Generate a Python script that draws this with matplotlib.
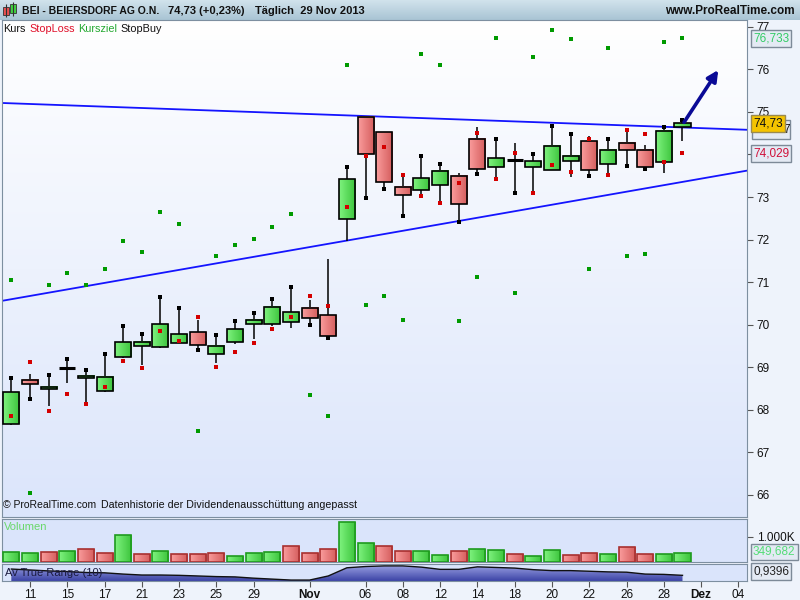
import numpy as np
import matplotlib
matplotlib.use("Agg")
import matplotlib.pyplot as plt
from matplotlib.patches import Rectangle, FancyArrowPatch
from matplotlib.colors import LinearSegmentedColormap
import matplotlib.transforms as mtransforms

plt.rcParams['font.family'] = ['Liberation Sans', 'DejaVu Sans']

# === DATOS (BEI, diario, 10 Oct - 29 Nov 2013) ===
opens = [67.66, 68.70, 68.48, 68.97, 68.74, 68.44, 69.24, 69.49, 69.47, 69.57,
         69.82, 69.31, 69.59, 70.01, 70.01, 70.06, 70.39, 70.22, 72.48, 74.88,
         74.52, 73.23, 73.16, 73.28, 73.49, 74.36, 73.70, 73.86, 73.70, 73.63,
         73.84, 74.31, 73.77, 74.27, 74.10, 73.82, 74.64]
highs = [68.74, 68.84, 68.81, 69.19, 68.93, 69.31, 69.97, 69.78, 70.65, 70.39,
         70.11, 69.75, 70.08, 70.27, 70.60, 70.88, 70.58, 71.55, 73.70, 74.91,
         74.52, 73.51, 73.96, 73.77, 73.56, 74.64, 74.36, 74.27, 74.01, 74.67,
         74.48, 74.43, 74.36, 74.63, 74.22, 74.64, 74.81]
lows = [67.64, 68.25, 68.08, 68.64, 68.19, 68.41, 69.22, 69.06, 69.44, 69.56,
        69.40, 69.11, 69.54, 69.66, 69.97, 69.92, 69.99, 69.68, 71.97, 72.97,
        73.18, 72.55, 73.02, 72.86, 72.41, 73.54, 73.42, 73.09, 73.09, 73.63,
        73.47, 73.49, 73.51, 73.72, 73.65, 73.56, 74.31]
closes = [68.41, 68.60, 68.53, 68.97, 68.79, 68.77, 69.59, 69.59, 70.01, 69.78,
          69.52, 69.50, 69.89, 70.11, 70.41, 70.29, 70.15, 69.73, 73.42, 74.01,
          73.35, 73.04, 73.44, 73.61, 72.83, 73.65, 73.91, 73.86, 73.84, 74.20,
          73.96, 73.63, 74.10, 74.10, 73.70, 74.55, 74.73]

stop_loss = [67.85, 69.12, 67.97, 68.37, 68.13, 68.53, 69.14, 68.98, 69.85, 69.61,
             70.18, 69.00, 69.35, 69.57, 69.89, 70.18, 70.67, 70.44, 72.76, 73.96,
             74.17, 73.51, 73.02, 72.86, 73.33, 74.50, 73.42, 74.03, 73.09, 73.75,
             73.58, 74.36, 73.51, 74.57, 74.48, 73.82, 74.03]
kursziel = [71.05, 66.04, 70.93, 71.21, 70.93, 71.31, 71.96, 71.71, 72.65, 72.36,
            67.50, 71.61, 71.87, 72.01, 72.29, 72.60, 68.34, 67.85, 76.10, 70.46,
            70.67, 70.11, 76.36, 76.10, 70.08, 71.12, 76.73, 70.74, 76.29, 76.92,
            76.71, 71.31, 76.50, 71.61, 71.66, 76.64, 76.73]
stop_buy = [68.74, 68.25, 68.81, 69.19, 68.93, 69.31, 69.97, 69.78, 70.65, 70.39,
            69.40, 69.75, 70.08, 70.27, 70.60, 70.88, 69.99, 69.68, 73.70, 72.97,
            73.18, 72.55, 73.96, 73.77, 72.41, 73.54, 74.36, 73.09, 74.01, 74.67,
            74.48, 73.49, 74.36, 73.72, 73.65, 74.64, 74.81]

volumen = [388, 348, 388, 428, 508, 348, 1068, 308, 428, 308,
           308, 348, 228, 348, 388, 628, 348, 508, 1588, 748,
           628, 428, 428, 268, 428, 508, 468, 308, 228, 468,
           268, 348, 308, 588, 308, 308, 349.682]
vol_up = [1, 1, 0, 1, 0, 0, 1, 0, 1, 0, 0, 0, 1, 1, 1, 0, 0, 0, 1, 1,
          0, 0, 1, 1, 0, 1, 1, 0, 1, 1, 0, 0, 1, 0, 0, 1, 1]

atr = [1.14, 1.11, 1.08, 1.06, 1.03, 1.02, 0.98, 0.95, 0.95, 0.94,
       0.92, 0.90, 0.89, 0.85, 0.82, 0.79, 0.79, 0.92, 1.18, 1.22,
       1.24, 1.24, 1.20, 1.13, 1.13, 1.21, 1.19, 1.17, 1.12, 1.09,
       1.09, 1.07, 1.05, 1.04, 0.98, 0.97, 0.94]

tick_pos = [1, 3, 5, 7, 9, 11, 13, 16, 19, 21, 23, 25, 27, 29, 31, 33, 35, 37, 39]
tick_lab = ["11", "15", "17", "21", "23", "25", "29", "Nov", "06", "08",
            "12", "14", "18", "20", "22", "26", "28", "Dez", "04"]

price_ticks = list(range(66, 78))
price_labels = [str(p) if p != 74 else "" for p in price_ticks]  # 74 liegt unter der Box

# Lineas de tendencia y flecha (indice, precio)
trend_upper = ([-0.5, 39.46], [75.21, 74.58])
trend_lower = ([-0.5, 39.46], [70.56, 73.62])
arrow_from = (36.0, 74.70)
arrow_to = (38.0, 76.04)

W, H = 800, 600
fig = plt.figure(figsize=(8, 6), dpi=100, facecolor="#eef3fb")


def fx(x):
    return x / W


def fy(y):
    return 1 - y / H


def add_ax(x0, y0, x1, y1):
    return fig.add_axes([fx(x0), fy(y1), fx(x1) - fx(x0), fy(y0) - fy(y1)])


def vgrad(a, top, bottom, z=0):
    cm = LinearSegmentedColormap.from_list("bg", [bottom, top])
    a.imshow(np.linspace(0, 1, 256).reshape(-1, 1), cmap=cm, origin="lower",
             extent=(0, 1, 0, 1), transform=a.transAxes, aspect="auto", zorder=z)


def body(a, x, lo, hi, w, c_left, c_right, edge, z=3):
    cm = LinearSegmentedColormap.from_list("b", [c_left, c_right])
    a.imshow(np.linspace(0, 1, 32).reshape(1, -1), cmap=cm,
             extent=(x - w / 2, x + w / 2, lo, hi), aspect="auto",
             interpolation="bilinear", zorder=z)
    a.add_patch(Rectangle((x - w / 2, lo), w, hi - lo, fill=False,
                          edgecolor=edge, lw=1.2, zorder=z + 0.5))


GREEN = ("#7ef27e", "#3cc43c")
RED = ("#fa9c9c", "#d45c5c")
BORDER = "#7d8fa0"

# === CABECERA ===
ax_head = add_ax(0, 0, 800, 20)
vgrad(ax_head, "#d2e3ec", "#a8c4d4")
ax_head.set_xlim(0, 800)
ax_head.set_ylim(20, 0)
ax_head.axis("off")
ax_head.vlines([6, 13], [4, 2], [17, 16], color="#333", lw=0.8)
ax_head.add_patch(Rectangle((3, 7), 6, 8, facecolor="#e85050", edgecolor="#333", lw=0.6))
ax_head.add_patch(Rectangle((10, 4), 6, 9, facecolor="#40d040", edgecolor="#333", lw=0.6))
ax_head.text(22, 10.5, "BEI - BEIERSDORF AG O.N.", fontsize=7.5, fontweight="bold",
             color="#111", va="center")
ax_head.text(168, 10.5, "74,73 (+0,23%)", fontsize=8, fontweight="bold",
             color="#111", va="center")
ax_head.text(255, 10.5, "Täglich  29 Nov 2013", fontsize=8, fontweight="bold",
             color="#111", va="center")
ax_head.text(795, 10.5, "www.ProRealTime.com", fontsize=8.5, fontweight="bold",
             color="#111", va="center", ha="right")

# === PANEL PRINCIPAL ===
ax = add_ax(2, 20, 747, 517)
vgrad(ax, "#ffffff", "#dbe5fb")
idx = np.arange(len(closes))
w = 0.86
for i in idx:
    ax.vlines(i, lows[i], highs[i], color="black", lw=1.1, zorder=2.8)
    o, c = opens[i], closes[i]
    if abs(o - c) < 1e-9:
        ax.hlines(o, i - w / 2, i + w / 2, color="black", lw=2.2, zorder=3)
    elif c > o:
        body(ax, i, o, c, w, GREEN[0], GREEN[1], "black")
    else:
        body(ax, i, c, o, w, RED[0], RED[1], "black")

ax.plot(*trend_upper, color="#1414ff", lw=1.3, zorder=2.5)
ax.plot(*trend_lower, color="#1414ff", lw=1.3, zorder=2.5)

ax.plot(idx, stop_buy, "s", color="black", ms=3.2, mew=0, zorder=5)
ax.plot(idx, stop_loss, "s", color="#d40000", ms=3.2, mew=0, zorder=5)
ax.plot(idx, kursziel, "s", color="#009a00", ms=3.2, mew=0, zorder=5)

ax.add_patch(FancyArrowPatch(arrow_from, arrow_to, arrowstyle="-|>",
                             mutation_scale=16, color="#0a0a96", lw=2.6, zorder=6))

ax.set_xlim(-0.5, 39.46)
ax.set_ylim(65.48, 77.16)
ax.set_xticks([])
ax.yaxis.tick_right()
ax.set_yticks(price_ticks)
ax.set_yticklabels(price_labels)
ax.tick_params(axis="y", length=4, pad=3, labelsize=8.5, color="#555", labelcolor="#111")
for s in ax.spines.values():
    s.set_color(BORDER)

leg_y = 0.992
for xp, txt, col in [(3, "Kurs", "#111"), (29, "StopLoss", "#e0102a"),
                     (78, "Kursziel", "#22a830"), (120, "StopBuy", "#111")]:
    ax.text((xp - 2) / 745, leg_y, txt, color=col, fontsize=7.8, transform=ax.transAxes,
            va="top", ha="left")
ax.text(1 / 745, 0.014, "© ProRealTime.com", fontsize=7.5, color="#111",
        transform=ax.transAxes, va="bottom")
ax.text(99 / 745, 0.014, "Datenhistorie der Dividendenausschüttung angepasst",
        fontsize=7.7, color="#111", transform=ax.transAxes, va="bottom")

# Cajas de valores en el eje derecho
trans = mtransforms.blended_transform_factory(ax.transAxes, ax.transData)
box_x = (753 - 2) / 745


def value_box(a, tr, y, txt, tcol, fcol, ecol="#7d8a98"):
    a.text(box_x, y, txt, transform=tr, color=tcol, fontsize=8.5, va="center",
           ha="left", clip_on=False, zorder=8,
           bbox=dict(boxstyle="square,pad=0.2", facecolor=fcol, edgecolor=ecol, lw=1))


value_box(ax, trans, kursziel[-1], "76,733", "#33cc66", "#e4eaf4")
# Box hinter dem Kurs (StopBuy), nur der Rand sichtbar
ax.add_patch(Rectangle((box_x - 0.002, 74.37), 0.052, 0.43, transform=trans,
                       facecolor="#e4eaf4", edgecolor="#7d8a98", lw=1,
                       clip_on=False, zorder=7))
ax.text(box_x + 0.041, 74.585, "7", transform=trans, fontsize=8.5, color="#111",
        va="center", clip_on=False, zorder=7.5)
value_box(ax, trans, closes[-1], "74,73", "#111", "#f5c400", "#9a8a50")
value_box(ax, trans, stop_loss[-1], "74,029", "#d0103a", "#e4eaf4")

# === VOLUMEN ===
ax_vol = add_ax(2, 519, 747, 562)
ax_vol.set_facecolor("#dae4fb")
for i in idx:
    if vol_up[i]:
        body(ax_vol, i, 0, volumen[i], w, GREEN[0], GREEN[1], "#1e9a1e")
    else:
        body(ax_vol, i, 0, volumen[i], w, RED[0], RED[1], "#a83030")
ax_vol.set_xlim(-0.5, 39.46)
ax_vol.set_ylim(0, 1710)
ax_vol.set_xticks([])
ax_vol.yaxis.tick_right()
ax_vol.set_yticks([1000])
ax_vol.set_yticklabels(["1.000K"])
ax_vol.tick_params(axis="y", length=4, pad=3, labelsize=8.5, color="#555", labelcolor="#111")
for s in ax_vol.spines.values():
    s.set_color(BORDER)
ax_vol.text(0.003, 0.93, "Volumen", transform=ax_vol.transAxes, fontsize=8,
            color="#6ad86a", va="top")
trans_v = mtransforms.blended_transform_factory(ax_vol.transAxes, ax_vol.transData)
value_box(ax_vol, trans_v, 400, "349,682", "#55dd77", "#e4eaf4")

# === AV TRUE RANGE ===
ax_atr = add_ax(2, 564, 747, 581)
ax_atr.set_facecolor("#dae4fb")
poly = ax_atr.fill_between(idx, atr, 0.0, color="none")
cm_atr = LinearSegmentedColormap.from_list("atr", ["#3c44a6", "#9aa0e2"])
img = ax_atr.imshow(np.linspace(0, 1, 64).reshape(-1, 1), cmap=cm_atr, origin="lower",
                    extent=(0, 36, 0.76, 1.26), aspect="auto", zorder=1)
img.set_clip_path(poly.get_paths()[0], transform=ax_atr.transData)
ax_atr.plot(idx, atr, color="#111", lw=1.0, zorder=2)
ax_atr.set_xlim(-0.5, 39.46)
ax_atr.set_ylim(0.76, 1.30)
ax_atr.set_yticks([])
ax_atr.set_xticks(tick_pos)
ax_atr.set_xticklabels(tick_lab)
ax_atr.tick_params(axis="x", length=4, pad=2, labelsize=8.5, color="#555", labelcolor="#111")
for t in ax_atr.get_xticklabels():
    if t.get_text() in ("Nov", "Dez"):
        t.set_fontweight("bold")
for s in ax_atr.spines.values():
    s.set_color(BORDER)
ax_atr.text(0.004, 0.5, "Av True Range (10)", transform=ax_atr.transAxes, fontsize=8,
            color="#1a1a40", va="center", zorder=4)
ax_atr.text(box_x, 0.56, "0,9396", transform=ax_atr.transAxes, color="#222",
            fontsize=8.5, va="center", ha="left", clip_on=False, zorder=8,
            bbox=dict(boxstyle="square,pad=0.2", facecolor="#e4eaf4", edgecolor="#7d8a98", lw=1))

fig.savefig("out.png", dpi=100, facecolor=fig.get_facecolor())
